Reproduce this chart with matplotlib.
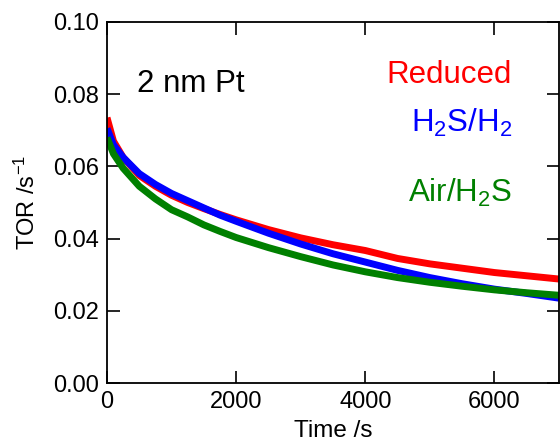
import matplotlib
matplotlib.use("Agg")
import matplotlib.pyplot as plt

plt.rcParams['font.family'] = ['Liberation Sans', 'DejaVu Sans']
plt.rcParams['mathtext.fontset'] = 'custom'
plt.rcParams['mathtext.rm'] = 'Liberation Sans'
plt.rcParams['mathtext.it'] = 'Liberation Sans:italic'
plt.rcParams['mathtext.bf'] = 'Liberation Sans:bold'

time_s = [0, 100, 250, 500, 750, 1000, 1250, 1500, 1750, 2000, 2500, 3000,
          3500, 4000, 4500, 5000, 5500, 6000, 6500, 7000]
tor_reduced = [0.0735, 0.0670, 0.0625, 0.0575, 0.0545, 0.0520, 0.0500, 0.0483,
               0.0467, 0.0452, 0.0425, 0.0402, 0.0383, 0.0367, 0.0345, 0.0330,
               0.0318, 0.0306, 0.0297, 0.0288]
tor_h2s_h2 = [0.0705, 0.0660, 0.0625, 0.0580, 0.0550, 0.0525, 0.0505, 0.0485,
              0.0465, 0.0448, 0.0415, 0.0385, 0.0358, 0.0335, 0.0312, 0.0292,
              0.0275, 0.0260, 0.0248, 0.0235]
tor_air_h2s = [0.0680, 0.0635, 0.0595, 0.0545, 0.0510, 0.0480, 0.0460, 0.0438,
               0.0420, 0.0403, 0.0375, 0.0350, 0.0327, 0.0308, 0.0292, 0.0279,
               0.0268, 0.0258, 0.0250, 0.0243]

series_names = ['Reduced', 'H$_2$S/H$_2$', 'Air/H$_2$S']
series_colors = ['#ff0000', '#0000ff', '#008000']
x_ticks = [0, 2000, 4000, 6000]
y_ticks = [0.00, 0.02, 0.04, 0.06, 0.08, 0.10]

fig = plt.figure(figsize=(5.6, 4.41), dpi=100)
ax = fig.add_axes([107/560, 1-383/441, (559-107)/560, (383-22)/441])

for vals, col in zip([tor_reduced, tor_h2s_h2, tor_air_h2s], series_colors):
    ax.plot(time_s, vals, color=col, lw=5, solid_capstyle='butt')

ax.set_xlim(0, 7000)
ax.set_ylim(0, 0.10)
ax.set_xticks(x_ticks)
ax.set_yticks(y_ticks)
ax.set_yticklabels([f"{v:.2f}" for v in y_ticks])
ax.tick_params(direction='in', length=9, width=1.2, labelsize=17, pad=6,
               top=True, right=True)
for s in ax.spines.values():
    s.set_linewidth(1.3)

ax.set_xlabel('Time /s', fontsize=17.5, labelpad=5)
ax.set_ylabel('TOR /s$^{-1}$', fontsize=17, labelpad=9)

ax.text(465, 0.0806, '2 nm Pt', fontsize=22.5, color='black', ha='left', va='baseline')
label_y = [0.0830, 0.0695, 0.0501]
for name, col, yv in zip(series_names, series_colors, label_y):
    ax.text(6272, yv, name, fontsize=22.5, color=col, ha='right', va='baseline')

fig.savefig('out.png', dpi=100)
